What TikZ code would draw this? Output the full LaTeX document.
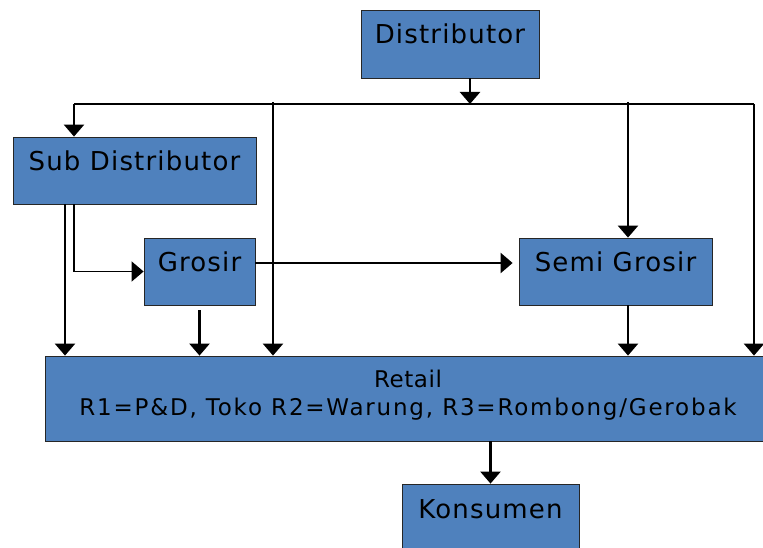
\documentclass[tikz,border=0pt]{standalone}
\usepackage{fontspec}
\usetikzlibrary{arrows.meta}
\newfontfamily\boxfont{DejaVu Sans}[LetterSpace=4.5]
\newfontfamily\retailtitle{DejaVu Sans}[LetterSpace=2.5]
\newfontfamily\retailnote{DejaVu Sans}[LetterSpace=7.8]
\definecolor{boxblue}{RGB}{79,129,189}

\begin{document}
\begin{tikzpicture}[x=1pt, y=-1pt,
  box/.style={draw=black!85, line width=0.8pt, fill=boxblue,
    inner xsep=0pt, inner ysep=0pt, anchor=base,
    font=\boxfont\fontsize{26}{30}\selectfont},
  flow/.style={line width=2.4pt, -{Triangle[width=20pt,length=12pt]}},
  flowthin/.style={line width=1.5pt, -{Triangle[width=20pt,length=12pt]}},
  bus/.style={line width=1.5pt}]
\useasboundingbox (0,0) rectangle (763,548);
\clip (0,0) rectangle (763,548);

% boxes: text sits near the top edge, base anchor on the first baseline
\node[box, minimum width=178pt, text height=34pt, text depth=34pt] (dist) at (450,44) {Distributor};
\node[box, minimum width=243pt, text height=34pt, text depth=33pt] (sub) at (134.5,171) {Sub Distributor};
\node[box, minimum width=111pt, text height=33.7pt, text depth=33.3pt] (grosir) at (199.5,271.7) {Grosir};
\node[box, minimum width=193pt, text height=33.7pt, text depth=33.3pt] (semi) at (615.5,271.7) {Semi Grosir};
\node[box, minimum width=726pt, text height=31pt, text depth=54pt,
  font=\fontsize{23}{28}\selectfont] (retail) at (408,387)
  {\begin{tabular}[t]{@{}c@{}}{\retailtitle Retail}\\{\retailnote R1=P\&D, Toko R2=Warung, R3=Rombong/Gerobak}\end{tabular}};
\node[box, minimum width=177pt, text height=34pt, text depth=60pt] (kons) at (490.5,518) {Konsumen};

% distribution bus below the distributor
\coordinate (busL) at (74,104);
\coordinate (busR) at (754,104);
\coordinate (tapD) at (470,104);
\coordinate (tapA) at (273,102);
\coordinate (tapB) at (628,102);
\coordinate (subA) at (65,204);
\coordinate (subB) at (74,204);
\coordinate (gsLine) at (0,263);

\draw[bus] (busL) -- (busR);
\draw[flow] (dist.south -| tapD) -- (tapD);
\draw[flow] (busL) -- (busL |- sub.north);
\draw[flow] (tapA) -- (tapA |- retail.north);
\draw[flow] (tapB) -- (tapB |- semi.north);
\draw[flow] (busR) -- (busR |- retail.north);

% sub distributor outlets
\draw[flow] (sub.south -| subA) -- (subA |- retail.north);
\draw[flowthin] (sub.south -| subB) |- (grosir.west);

% grosir outlets
\draw[flow] (grosir.east |- gsLine) -- ([xshift=-6pt]semi.west |- gsLine);
\draw[flow] ([yshift=-5pt]grosir.south) -- (grosir.south |- retail.north);

% semi grosir and retail
\draw[flow] (semi.south -| tapB) -- (tapB |- retail.north);
\draw[flow] (retail.south -| kons.north) -- (kons.north);
\end{tikzpicture}
\end{document}
